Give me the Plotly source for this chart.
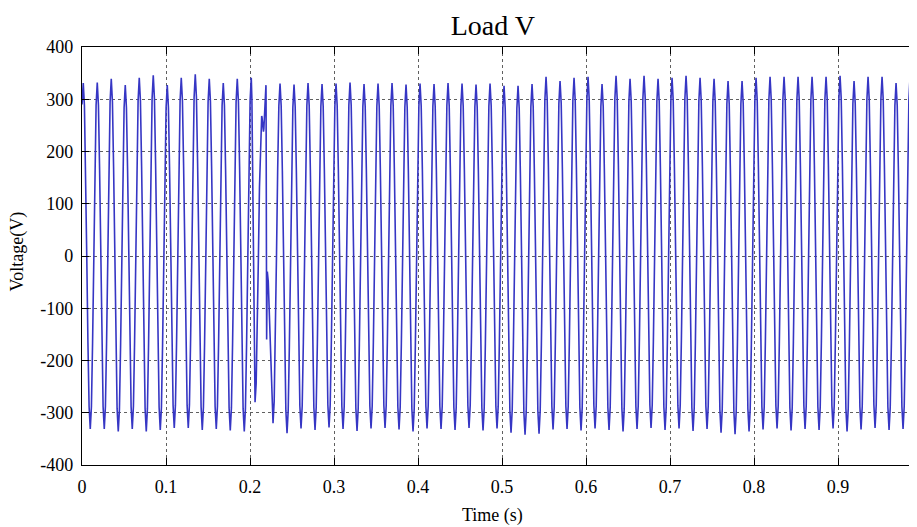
import plotly.graph_objects as go

# ---------------- data ----------------
FREQ_HZ = 60.0                      # cycles per second (60 peaks across 1 s)
start_point = (0.0, 290)            # value at t = 0
pre_first_peak_t = 0.0015           # time of first positive peak (s)
pre_peak_values = [331, 332, 339, 327, 341, 346, 327, 341, 348, 339, 331, 339, 341]
pre_trough_values = [-331, -331, -336, -331, -336, -333, -329, -329, -333, -331, -334, -336]

# disturbance around t = 0.2 s
disturb_t = [0.2060, 0.2139, 0.2160, 0.2190, 0.2198, 0.2206]
disturb_v = [-280, 268, 238, 327, -160, -30]

post_first_trough_t = 0.2274        # first trough after the disturbance (s)
post_trough_values = [-320, -339, -330, -333, -328, -331, -335, -330, -329, -332,
                      -336, -330, -331, -333, -329, -334, -330, -338, -342, -340,
                      -332, -331, -334, -330, -333, -336, -331, -329, -333, -330,
                      -335, -331, -338, -341, -336, -332, -330, -334, -331, -333,
                      -330, -336, -332, -329, -333, -331, -338]
post_peak_values = [330, 328, 331, 329, 330, 332, 329, 330, 331, 328,
                    330, 329, 331, 330, 328, 330, 326, 326, 329, 343,
                    335, 341, 343, 329, 345, 339, 345, 339, 341, 345,
                    341, 339, 335, 335, 341, 343, 343, 343, 343, 343,
                    345, 335, 343, 343, 331, 343]

# normalised shape of a half cycle between two extremes (read from one cycle)
half_cycle_shape = [1.0, 0.87, 0.5, 0.0, -0.5, -0.87, -1.0]

x_tick_vals = [0, 0.1, 0.2, 0.3, 0.4, 0.5, 0.6, 0.7, 0.8, 0.9]
x_tick_text = ["0", "0.1", "0.2", "0.3", "0.4", "0.5", "0.6", "0.7", "0.8", "0.9"]
y_tick_vals = [-400, -300, -200, -100, 0, 100, 200, 300, 400]
y_tick_text = ["-400", "-300", "-200", "-100", "0", "100", "200", "300", "400"]

# ---------------- build the waveform ----------------
period = 1.0 / FREQ_HZ
ext_t, ext_v = [start_point[0]], [start_point[1]]
for k, pv in enumerate(pre_peak_values):
    tp = pre_first_peak_t + k * period
    ext_t.append(tp); ext_v.append(pv)
    if k < len(pre_trough_values):
        ext_t.append(tp + period / 2); ext_v.append(pre_trough_values[k])
ext_t += disturb_t
ext_v += disturb_v
for k, tv in enumerate(post_trough_values):
    tt = post_first_trough_t + k * period
    ext_t.append(tt); ext_v.append(tv)
    if k < len(post_peak_values):
        ext_t.append(tt + period / 2); ext_v.append(post_peak_values[k])

xs, ys = [ext_t[0]], [ext_v[0]]
n = len(half_cycle_shape) - 1
for i in range(len(ext_t) - 1):
    t1, t2 = ext_t[i], ext_t[i + 1]
    v1, v2 = ext_v[i], ext_v[i + 1]
    for j in range(1, n + 1):
        s = half_cycle_shape[j]
        xs.append(t1 + (t2 - t1) * j / n)
        ys.append(v1 * (1 + s) / 2 + v2 * (1 - s) / 2)

# ---------------- figure ----------------
# The page body has an 8 px margin, so the figure is sized to fit the window.
FIG_W, FIG_H = 909, 519
FONT = "Liberation Serif, Times New Roman, serif"
fig = go.Figure()
fig.add_trace(go.Scatter(x=xs, y=ys, mode="lines",
                         line=dict(color="#3636c4", width=1.6),
                         hoverinfo="skip", showlegend=False))

fig.update_layout(
    width=FIG_W, height=FIG_H, autosize=False,
    margin=dict(l=74, r=0, t=39, b=62, autoexpand=False),
    paper_bgcolor="white", plot_bgcolor="white",
    font=dict(family=FONT, size=18, color="black"),
    title=dict(text="Load V", x=0.492, xref="paper", xanchor="center",
               y=1 - 17 / FIG_H, yref="container", yanchor="middle",
               font=dict(family=FONT, size=28, color="black")),
    annotations=[
        dict(text="Time (s)", x=0.492, xref="paper", y=-0.122, yref="paper",
             xanchor="center", yanchor="middle", showarrow=False,
             font=dict(family=FONT, size=18, color="black")),
        dict(text="Voltage(V)", x=-0.077, xref="paper", y=0.51, yref="paper",
             xanchor="center", yanchor="middle", showarrow=False, textangle=-90,
             font=dict(family=FONT, size=18, color="black")),
    ],
)
fig.update_xaxes(range=[0, 0.994], tickvals=x_tick_vals, ticktext=x_tick_text,
                 showline=True, linecolor="black", linewidth=1.2, mirror="ticks",
                 ticks="inside", ticklen=7, tickcolor="black",
                 showgrid=True, gridcolor="#606060", gridwidth=1, griddash="dot",
                 zeroline=False, ticklabelstandoff=5,
                 tickfont=dict(family=FONT, size=18, color="black"))
fig.update_yaxes(range=[-400, 400], tickvals=y_tick_vals, ticktext=y_tick_text,
                 showline=True, linecolor="black", linewidth=1.2, mirror=False,
                 ticks="inside", ticklen=7, tickcolor="black",
                 showgrid=True, gridcolor="#606060", gridwidth=1, griddash="dot",
                 zeroline=False, ticklabelstandoff=4,
                 tickfont=dict(family=FONT, size=18, color="black"))

fig.write_html("out.html")
